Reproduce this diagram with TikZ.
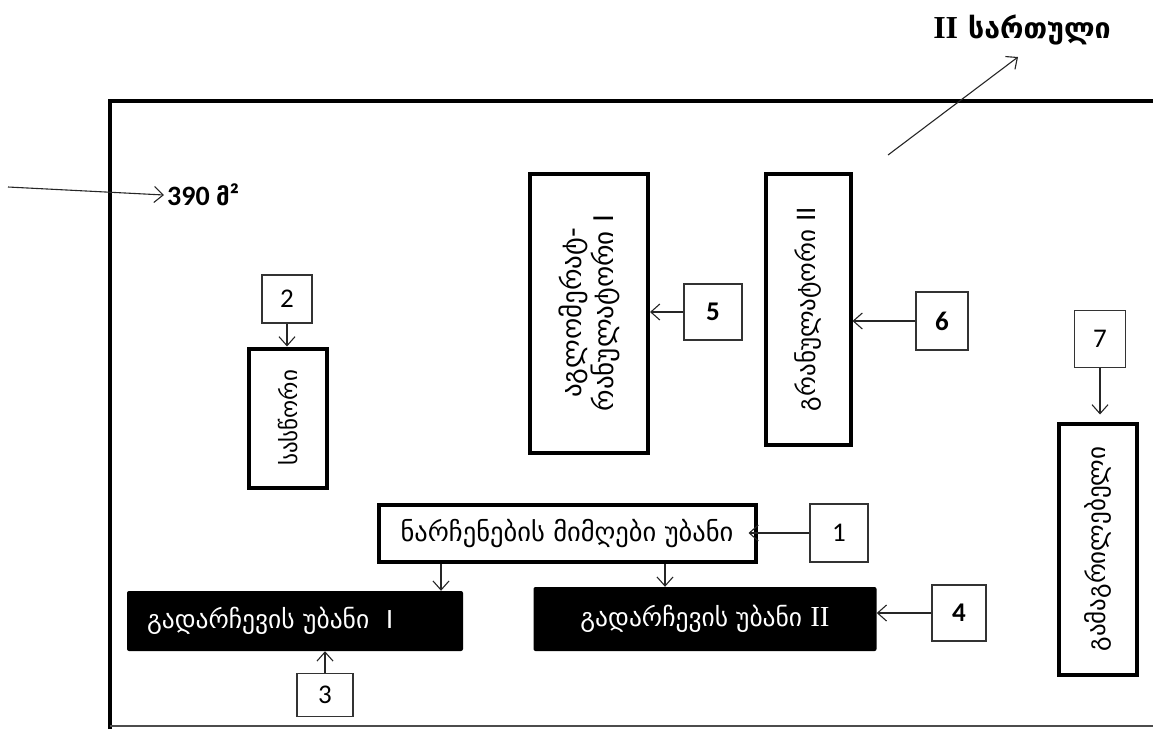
\documentclass[tikz,border=0pt]{standalone}
\usepackage{fontspec}
\setmainfont{Liberation Serif}
\newfontfamily\geofnt{DejaVu Sans}
\newfontfamily\calfnt{Carlito}
\newfontfamily\tnrfnt{Liberation Serif}
\usetikzlibrary{arrows.meta}
\newcommand\gsz[1]{\fontsize{#1}{32}\selectfont}
\begin{document}
\begin{tikzpicture}[x=1pt,y=-1pt,
  thickbox/.style={draw=black, line width=4pt, inner sep=0pt, font=\geofnt, align=center},
  numbox/.style={draw=black!80, line width=1.3pt, inner sep=0pt, font=\calfnt\fontsize{27}{30}\selectfont},
  boldnum/.style={numbox, font=\calfnt\bfseries\fontsize{27}{30}\selectfont},
  blackbox/.style={fill=black, rounded corners=2pt, text=white, inner sep=0pt, font=\geofnt\fontsize{25.5}{28}\selectfont},
  arr/.style={draw=black!85, line width=1.1pt, -{Straight Barb[length=9pt,width=16pt]}}]
\useasboundingbox (0,0) rectangle (1153,729);
% frame
\draw[line width=4pt] (110,729) -- (110,101) -- (1160,101);
\draw[line width=1.2pt, black!70] (110,726) -- (1160,726);
% title and area
\node[font=\tnrfnt\bfseries\fontsize{32}{34}\selectfont] (title) at (1022,30) {II\hspace{10pt}{\geofnt\fontsize{28.5}{34}\selectfont სართული}};
\coordinate (t0) at (888,155);
\coordinate (t1) at (1018,57);
\draw[arr] (t0) -- (t1);
\node[anchor=west, inner sep=0pt] (area) at (167,195) {\calfnt\bfseries\fontsize{28}{30}\selectfont 390 {\geofnt\bfseries\fontsize{24}{30}\selectfont მ}²};
\coordinate (a0) at (8,187);
\draw[arr] (a0) -- ([xshift=-3pt]area.west);
% boxes
\node[numbox, minimum width=50pt, minimum height=48pt] (n2) at (287,299) {2};
\node[thickbox, rotate=90, minimum width=139pt, minimum height=78pt, font=\geofnt\gsz{23}] (sas) at (288,418) {სასწორი};
\node[thickbox, rotate=90, minimum width=279pt, minimum height=118pt, font=\geofnt\gsz{27}] (agg) at (589,313) {აგლომერატ-\\რანულატორი I};
\node[boldnum, minimum width=58pt, minimum height=56pt] (n5) at (713,312) {5};
\node[thickbox, rotate=90, minimum width=271pt, minimum height=85pt, font=\geofnt\gsz{25}] (gran) at (808,309) {გრანულატორი II};
\node[boldnum, minimum width=52pt, minimum height=58pt] (n6) at (942,321) {6};
\node[numbox, minimum width=51pt, minimum height=57pt] (n7) at (1100,339) {7};
\node[thickbox, rotate=90, minimum width=251pt, minimum height=78pt, font=\geofnt\gsz{25}] (gam) at (1098,549) {გამაგრილებელი};
\node[thickbox, minimum width=377pt, minimum height=57pt, font=\geofnt\gsz{26.5}] (narch) at (567,533.5) {ნარჩენების მიმღები უბანი};
\node[numbox, minimum width=58pt, minimum height=58pt] (n1) at (839,533) {1};
\node[blackbox, minimum width=336pt, minimum height=60pt, text width=296pt, align=left] (bb1) at (295,621) {გადარჩევის უბანი \ {\calfnt\fontsize{28}{28}\selectfont I}};
\node[blackbox, minimum width=343pt, minimum height=64pt] (bb2) at (705,619) {გადარჩევის უბანი {\tnrfnt\fontsize{29}{28}\selectfont II}};
\node[numbox, minimum width=56pt, minimum height=43pt] (n3) at (325,695) {3};
\node[boldnum, minimum width=54pt, minimum height=56pt] (n4) at (959,613) {4};
% connectors
\draw[arr] (n2.south) -- (n2.south |- sas.east);
\draw[arr] (n5.west) -- (n5.west -| agg.south);
\draw[arr] (n6.west) -- (n6.west -| gran.south);
\draw[arr, shorten >=7pt] (n7.south) -- (n7.south |- gam.east);
\draw[arr, shorten >=-9pt] (n1.west) -- (n1.west -| narch.east);
\draw[arr] ([xshift=-126pt]narch.south) -- ([xshift=-126pt]narch.south |- bb1.north);
\draw[arr] ([xshift=98pt]narch.south) -- ([xshift=98pt]narch.south |- bb2.north);
\draw[arr] (n3.north) -- (n3.north |- bb1.south);
\draw[arr] (n4.west) -- (n4.west -| bb2.east);
\end{tikzpicture}
\end{document}
